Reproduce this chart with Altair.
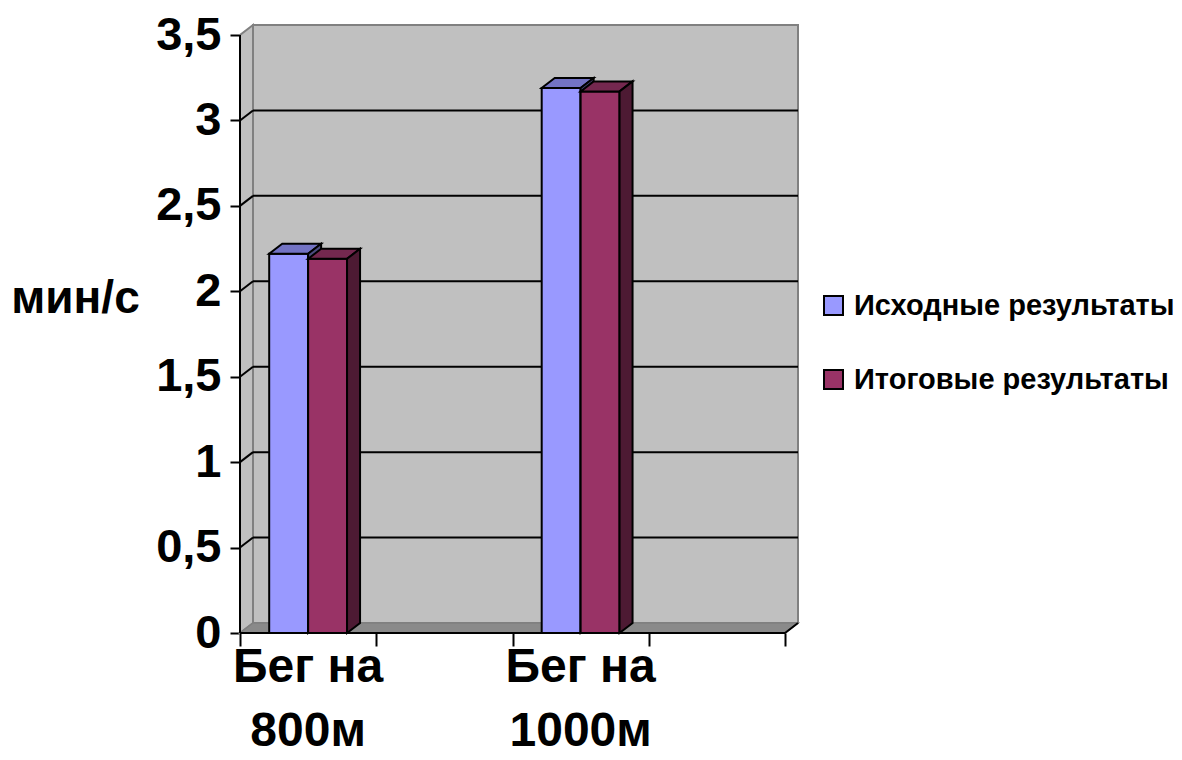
import altair as alt
import pandas as pd

# ---- chart data -------------------------------------------------------------
categories = ["Бег на\n800м", "", "Бег на\n1000м", ""]
series = ["Исходные результаты", "Итоговые результаты"]
initial = [2.22, None, 3.19, None]
final = [2.19, None, 3.17, None]
y_ticks = [0, 0.5, 1, 1.5, 2, 2.5, 3, 3.5]

# ---- styling ----------------------------------------------------------------
front_colors = ["#9999FF", "#993366"]
top_colors = ["#7373C4", "#74284F"]
side_colors = ["#4C4C80", "#4D1A33"]
FONT = "Liberation Sans"
WALL = "#C0C0C0"
EDGE = "#808080"
FLOOR = "#8A8A8A"

W, H = 558, 608                  # plot area in px
N = len(categories)
Y_MAX = y_ticks[-1]
DEPTH_X, DEPTH_Y = 13, 10        # 3-D depth of the box in px
PX_X = (W - DEPTH_X) / N
PX_Y = (H - DEPTH_Y) / Y_MAX
DX = DEPTH_X / PX_X              # depth expressed in data units
DY = DEPTH_Y / PX_Y
BAR_W = 1 / (len(series) + 1.5)  # gap width 150 %

# ---- faces of the 3-D columns ----------------------------------------------
values = {series[0]: initial, series[1]: final}
fronts, tops, sides = [], [], []
for j, s in enumerate(series):
    for i, v in enumerate(values[s]):
        if v is None:
            continue
        x0 = i + (1 - len(series) * BAR_W) / 2 + j * BAR_W
        x1 = x0 + BAR_W
        bar = f"{j}-{i}"
        fronts.append(dict(series=s, bar=bar, x0=x0, x1=x1, y0=0, v=v))
        tops += [dict(series=s, bar=bar, y=v, xa=x0, xb=x1),
                 dict(series=s, bar=bar, y=v + DY, xa=x0 + DX, xb=x1 + DX)]
        sides += [dict(series=s, bar=bar, x=x1, ya=0, yb=v),
                  dict(series=s, bar=bar, x=x1 + DX, ya=DY, yb=v + DY)]
fronts, tops, sides = pd.DataFrame(fronts), pd.DataFrame(tops), pd.DataFrame(sides)

# shared scales and axes (identical in every layer so they merge into one)
xs = alt.Scale(domain=[0, N + DX], nice=False, zero=False)
ys = alt.Scale(domain=[0, Y_MAX + DY], nice=False, zero=False)
X_AXIS = alt.Axis(
    values=list(range(N + 1)), labels=False, domain=False, grid=False,
    ticks=True, tickSize=13, tickWidth=2, tickColor="black", title=None,
)
Y_AXIS = alt.Axis(
    values=y_ticks, format="~g", labelExpr="replace(datum.label, '.', ',')",
    domain=False, grid=False, ticks=True, tickSize=10, tickWidth=2,
    tickColor="black", labelFont=FONT, labelFontSize=47,
    labelFontWeight="bold", labelColor="black", labelPadding=9,
    title="мин/с", titleAngle=0, titleFont=FONT, titleFontSize=46,
    titleFontWeight="bold", titleColor="black", titleAlign="center",
    titleBaseline="middle", titleX=-165, titleY=273,
)


def X(field):
    return alt.X(field, type="quantitative", scale=xs, axis=X_AXIS)


def Y(field):
    return alt.Y(field, type="quantitative", scale=ys, axis=Y_AXIS)


# ---- walls, floor and grid --------------------------------------------------
back = alt.Chart(pd.DataFrame([dict(x=DX, x2=N + DX, y=DY, y2=Y_MAX + DY)])).mark_rect(
    fill=WALL, stroke=EDGE, strokeWidth=2
).encode(x=X("x"), x2="x2:Q", y=Y("y"), y2="y2:Q")

side_wall = alt.Chart(pd.DataFrame(dict(
    x=[0, DX], y=[0, DY], y2=[Y_MAX, Y_MAX + DY]
))).mark_area(orient="vertical", fill=WALL, stroke=EDGE, strokeWidth=2).encode(
    x=X("x"), y=Y("y"), y2="y2:Q",
)

floor = alt.Chart(pd.DataFrame(dict(
    y=[0, DY], x=[0, DX], x2=[N, N + DX]
))).mark_area(orient="horizontal", fill=FLOOR, stroke=EDGE, strokeWidth=1.5).encode(
    y=Y("y"), x=X("x"), x2="x2:Q",
)

inner = y_ticks[1:-1]
grid_back = alt.Chart(pd.DataFrame(dict(
    x=[DX] * len(inner), x2=[N + DX] * len(inner), y=[k + DY for k in inner]
))).mark_rule(color="black", strokeWidth=2).encode(
    x=X("x"), x2="x2:Q", y=Y("y"),
)
grid_side = alt.Chart(pd.DataFrame(dict(
    x=[0] * len(inner), x2=[DX] * len(inner), y=inner, y2=[k + DY for k in inner]
))).mark_rule(color="black", strokeWidth=2).encode(
    x=X("x"), x2="x2:Q", y=Y("y"), y2="y2:Q",
)

# ---- columns ----------------------------------------------------------------
legend = alt.Legend(
    title=None, orient="none", legendX=579, legendY=266, symbolType="square",
    symbolSize=361, symbolStrokeColor="black", symbolStrokeWidth=2,
    labelFont=FONT, labelFontSize=29, labelFontWeight="bold",
    labelColor="black", labelOffset=6, rowPadding=44, labelLimit=500,
)
fill_scale = alt.Scale(domain=series, range=front_colors)

column_layers = []
for j, s in enumerate(series):
    front = alt.Chart(fronts[fronts.series == s]).mark_rect(
        stroke="black", strokeWidth=2
    ).encode(
        x=X("x0"), x2="x1:Q", y=Y("y0"), y2="v:Q",
        fill=alt.Fill("series:N", scale=fill_scale, legend=legend),
    )
    top = alt.Chart(tops[tops.series == s]).mark_area(
        orient="horizontal", fill=top_colors[j], stroke="black", strokeWidth=2
    ).encode(y=Y("y"), x=X("xa"), x2="xb:Q", detail="bar:N")
    side = alt.Chart(sides[sides.series == s]).mark_area(
        orient="vertical", fill=side_colors[j], stroke="black", strokeWidth=2
    ).encode(x=X("x"), y=Y("ya"), y2="yb:Q", detail="bar:N")
    column_layers += [front, top, side]

# ---- axis lines and category labels ----------------------------------------
y_line = alt.Chart(pd.DataFrame(dict(x=[0], y=[0], y2=[Y_MAX]))).mark_rule(
    color="black", strokeWidth=2
).encode(x=X("x"), y=Y("y"), y2="y2:Q")
x_line = alt.Chart(pd.DataFrame(dict(x=[0, N, N + DX], y=[0, 0, DY]))).mark_line(
    color="black", strokeWidth=2
).encode(x=X("x"), y=Y("y"))

labels_df = pd.DataFrame([dict(x=i + 0.5, y=0, text=c) for i, c in enumerate(categories) if c])
cat_labels = alt.Chart(labels_df).mark_text(
    baseline="top", dy=11, lineBreak="\n", lineHeight=64, font=FONT,
    fontSize=48, fontWeight="bold", color="black",
).encode(x=X("x"), y=Y("y"), text="text:N")

chart = alt.layer(
    back, side_wall, floor, grid_back, grid_side,
    *column_layers, y_line, x_line, cat_labels,
).properties(
    width=W, height=H,
    autosize=alt.AutoSizeParams(type="none"),
    padding={"left": 240, "top": 25, "right": 1182 - 240 - W, "bottom": 760 - 25 - H},
    background="white",
).configure_view(stroke=None)

chart.save("out.html", embed_options={"renderer": "svg", "actions": False})
